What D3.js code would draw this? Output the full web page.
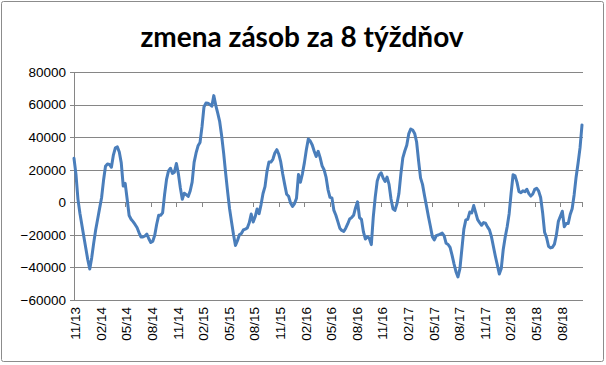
<!DOCTYPE html>
<html>
<head>
<meta charset="utf-8">
<script src="https://cdn.jsdelivr.net/npm/d3@7/dist/d3.min.js"></script>
<style>
  html, body { margin: 0; padding: 0; background: #fff; }
  svg { display: block; }
</style>
</head>
<body>
<svg id="chart" width="606" height="365"></svg>
<script>
// ---- data (weekly values) ----
const title = "zmena zásob za 8 týždňov";

const values = [
  27000, 17100, 1950, -6700, -14000, -21200, -28200, -35300, -41000, -34000,
  -25100, -17000, -10400, -3750, 2800, 13500, 22100, 23500, 23200, 21500,
  29000, 33450, 34000, 30900, 24200, 10000, 11600, 1900, -8100, -10400,
  -11900, -13600, -15500, -18600, -21300, -21300, -20700, -19500, -22400, -24700,
  -23900, -20300, -13500, -8000, -8000, -6500, 4700, 14100, 19300, 20900,
  17700, 18500, 23800, 17600, 8900, 1800, 5600, 4650, 3600, 6900,
  12400, 24500, 30300, 34700, 36700, 46300, 58500, 60900, 60800, 60000,
  59000, 65500, 59500, 54700, 49500, 40700, 30200, 18000, 6700, -3900,
  -11900, -19800, -26500, -23600, -19900, -19100, -17000, -16500, -15800, -12600,
  -7200, -12100, -8900, -4100, -7000, -1400, 5400, 9600, 18800, 24700,
  24700, 26400, 30300, 32300, 29500, 24800, 17400, 11000, 4900, 3700,
  -500, -2600, -800, 2500, 17000, 12300, 17500, 24200, 32200, 38900,
  37600, 35200, 31300, 28100, 31300, 27400, 22400, 20000, 15500, 7800,
  3000, 2700, -5000, -8000, -11900, -15900, -17300, -17900, -15900, -13300,
  -10300, -9400, -8000, -3300, 300, -9400, -10500, -18200, -22600, -21100,
  -22200, -26000, -9000, 3300, 13100, 16800, 18100, 14900, 12800, 15500,
  11000, 2000, -4000, -5000, -1000, 5200, 17300, 27300, 31500, 35000,
  42000, 45000, 44400, 42300, 37000, 25500, 15000, 11000, 4100, -2200,
  -8700, -14700, -21100, -23100, -20500, -20100, -19500, -18900, -20600, -25200,
  -25900, -27700, -32400, -37800, -42600, -45800, -40700, -28600, -16500, -10800,
  -10400, -6000, -6500, -2000, -6400, -10700, -12500, -14100, -12500, -12900,
  -15100, -16900, -21100, -27200, -33100, -38500, -44000, -40600, -29000, -21300,
  -15000, -7000, 5600, 16900, 16200, 12200, 6500, 5900, 7000, 6500,
  8000, 5300, 3800, 5100, 7900, 8600, 6800, 2900, -6400, -18400,
  -21600, -27000, -28000, -27600, -25700, -20000, -11700, -8600, -5500, -15000,
  -13000, -13000, -7500, -4000, 4500, 15400, 24000, 33400, 47500
];

// category labels shown every 13 weeks, starting with the first week
const tickLabels = ["11/13", "02/14", "05/14", "08/14", "11/14", "02/15", "05/15",
  "08/15", "11/15", "02/16", "05/16", "08/16", "11/16", "02/17", "05/17",
  "08/17", "11/17", "02/18", "05/18", "08/18"];
const tickStep = 13;

const yTicks = [-60000, -40000, -20000, 0, 20000, 40000, 60000, 80000];

// ---- drawing ----
const svg = d3.select("#chart");
const font = "'Liberation Sans', Arial, sans-serif";

const plot = { left: 74, right: 582, top: 72, bottom: 300 };

const x = d3.scaleLinear().domain([0, values.length - 1]).range([plot.left, plot.right]);
const y = d3.scaleLinear().domain([-60000, 80000]).range([plot.bottom, plot.top]);

// outer border
svg.append("rect")
  .attr("x", 1.5).attr("y", 1.5).attr("width", 602).attr("height", 360)
  .attr("rx", 2)
  .attr("fill", "#fff").attr("stroke", "#8c8c8c").attr("stroke-width", 1);

// title
svg.append("text")
  .attr("x", 302).attr("y", 47)
  .attr("text-anchor", "middle")
  .attr("font-family", "Lato, 'Open Sans', sans-serif")
  .attr("font-weight", "bold")
  .attr("font-size", 28)
  .attr("fill", "#000")
  .text(title);

// gridlines + y labels via axis
const yAxis = d3.axisLeft(y)
  .tickValues(yTicks)
  .tickSize(-(plot.right - plot.left) - 1)
  .tickPadding(8)
  .tickFormat(d3.format("d"));

const gy = svg.append("g")
  .attr("transform", `translate(${plot.left},0)`)
  .call(yAxis);
gy.select(".domain").attr("stroke", "#868686").attr("shape-rendering", "crispEdges");
gy.selectAll(".tick line").attr("stroke", "#868686").attr("shape-rendering", "crispEdges")
  .attr("x1", -4);
gy.selectAll(".tick text")
  .attr("font-family", font).attr("font-size", 13.5).attr("fill", "#000")
  .attr("x", -8);

// x axis at zero with tick marks
const tickIdx = tickLabels.map((_, i) => i * tickStep);
const xAxis = d3.axisBottom(x)
  .tickValues(tickIdx)
  .tickSize(5)
  .tickFormat("");
const gx = svg.append("g")
  .attr("transform", `translate(0,${y(0)})`)
  .call(xAxis);
gx.select(".domain").attr("stroke", "#868686").attr("shape-rendering", "crispEdges");
gx.selectAll(".tick line").attr("stroke", "#868686").attr("shape-rendering", "crispEdges");

// x labels at bottom, rotated
svg.append("g")
  .selectAll("text")
  .data(tickLabels)
  .join("text")
  .attr("transform", (d, i) => `translate(${x(tickIdx[i]) + 1.5},307) rotate(-90)`)
  .attr("text-anchor", "end")
  .attr("dy", "0.35em")
  .attr("font-family", font)
  .attr("font-size", 13.5)
  .attr("fill", "#000")
  .text(d => d);

// data line
const line = d3.line()
  .x((d, i) => x(i))
  .y(d => y(d))
  .curve(d3.curveLinear);

svg.append("path")
  .datum(values)
  .attr("d", line)
  .attr("fill", "none")
  .attr("stroke", "#4a7ebb")
  .attr("stroke-width", 3)
  .attr("stroke-linejoin", "round")
  .attr("stroke-linecap", "round");
</script>
</body>
</html>
